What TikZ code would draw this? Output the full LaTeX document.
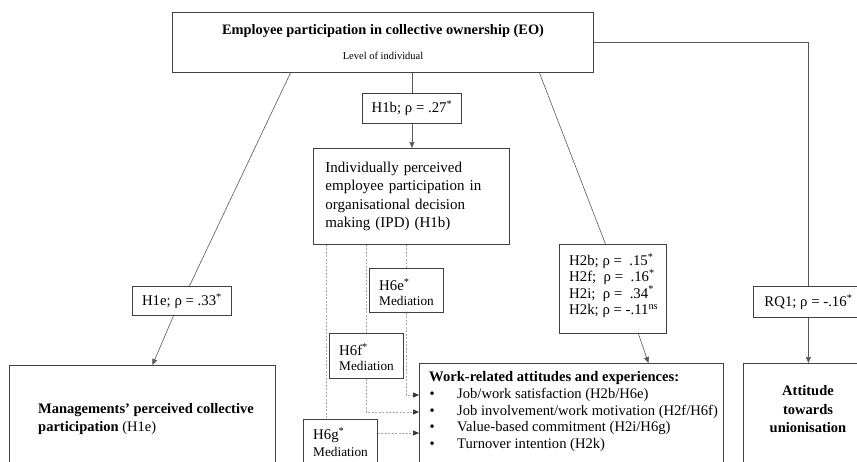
\documentclass[tikz,border=0pt]{standalone}
\usepackage{fontspec}
\setmainfont{Liberation Serif}
\usetikzlibrary{arrows.meta,calc,positioning}

\begin{document}
\begin{tikzpicture}[x=1pt,y=-1pt,font=\fontsize{14.8}{17}\selectfont,
  box/.style={draw=black!75,line width=0.9pt,inner sep=0pt,anchor=north west},
  con/.style={black!65,line width=0.6pt},
  arr/.style={con,-{Triangle[length=6pt,width=5pt]}},
  med/.style={black!35,line width=0.6pt,dash pattern=on 2pt off 1.5pt},
  medarr/.style={med,-{Triangle[length=6pt,width=5pt,color=black!80]}},
  txt/.style={inner sep=0pt},
  hyp/.style={txt,anchor=west},
  medtxt/.style={txt,anchor=west,font=\fontsize{13.3}{15}\selectfont}]
\useasboundingbox (0,0) rectangle (857,461);
\clip (0,0) rectangle (857,461);

% top: collective ownership
\node[box,minimum width=421pt,minimum height=60pt] (eo) at (172,12) {};
\node[txt,font=\fontsize{14.4}{17}\selectfont\bfseries] (eotitle) at (383,31) {Employee participation in collective ownership (EO)};
\node[txt,font=\fontsize{10.5}{12}\selectfont] (eolevel) at (383,56) {Level of individual};

% middle column
\node[box,minimum width=99pt,minimum height=30pt] (h1b) at (362,93) {H1b; ρ = .27\textsuperscript{*}};
\node[box,minimum width=196pt,minimum height=96pt,text width=172pt,align=left,
  font=\fontsize{15}{18.4}\selectfont] (ipd) at (313,148)
  {Individually perceived\\employee participation in\\organisational decision\\making (IPD) (H1b)};

% mediation boxes
\node[box,minimum width=74pt,minimum height=44pt] (h6e) at (369,268) {};
\node[hyp] (h6et) at (379,285) {H6e\textsuperscript{*}};
\node[medtxt] (h6em) at (379,301) {Mediation};
\node[box,minimum width=74pt,minimum height=45pt] (h6f) at (329,333) {};
\node[hyp] (h6ft) at (339,350) {H6f\textsuperscript{*}};
\node[medtxt] (h6fm) at (339,366) {Mediation};
\node[box,minimum width=74pt,minimum height=60pt] (h6g) at (303,419) {};
\node[hyp] (h6gt) at (313,435) {H6g\textsuperscript{*}};
\node[medtxt] (h6gm) at (313,452) {Mediation};

% left column
\node[box,minimum width=99pt,minimum height=29pt] (h1e) at (132,286) {H1e; ρ = .33\textsuperscript{*}};
\node[box,minimum width=266pt,minimum height=120pt] (mgmt) at (9,365) {};
\node[txt,anchor=west,align=left,font=\fontsize{14.5}{18}\selectfont\bfseries] (mgmtt) at (38,419)
  {Managements’ perceived collective\\participation {\mdseries (H1e)}};

% work attitudes
\node[box,minimum width=107pt,minimum height=89pt] (h2) at (559,244) {};
\node[txt,anchor=west,align=left,font=\fontsize{14.8}{16.4}\selectfont] (h2t) at (569,285.5)
  {H2b; ρ =~~.15\textsuperscript{*}\\H2f;~~ρ =~~.16\textsuperscript{*}\\H2i;~~ρ =~~.34\textsuperscript{*}\\H2k; ρ = -.11\textsuperscript{ns}};
\node[box,minimum width=304pt,minimum height=120pt] (work) at (419,363) {};
\node[txt,anchor=west,align=left,font=\fontsize{14.6}{16.6}\selectfont] (workt) at (429,411.5)
  {{\bfseries Work-related attitudes and experiences:}\\
   \makebox[28pt][l]{\hspace{0.5pt}\textbullet}Job/work satisfaction (H2b/H6e)\\
   \makebox[28pt][l]{\hspace{0.5pt}\textbullet}Job involvement/work motivation (H2f/H6f)\\
   \makebox[28pt][l]{\hspace{0.5pt}\textbullet}Value-based commitment (H2i/H6g)\\
   \makebox[28pt][l]{\hspace{0.5pt}\textbullet}Turnover intention (H2k)};

% right column
\node[box,minimum width=110pt,minimum height=31pt] (rq1) at (753,286) {RQ1; ρ = -.16\textsuperscript{*}};
\node[box,minimum width=130pt,minimum height=120pt] (att) at (743,363) {};
\node[txt,align=center,font=\fontsize{14.5}{18.5}\selectfont\bfseries] (attt) at (808,409.5)
  {Attitude\\towards\\unionisation};

% connectors
\draw[con] (eo.south -| h1b.north) -- (h1b.north);
\draw[arr] (h1b.south) -- (h1b.south |- ipd.north);
\draw[con] ($(eo.south)+(-92.5,0)$) -- ($(h1e.north)+(7.5,0)$);
\draw[arr] ($(h1e.south)+(-8.5,0)$) -- ($(mgmt.north)+(10,0)$);
\draw[con] ($(eo.south)+(156.5,0)$) -- ($(h2.north)+(-7.5,0)$);
\draw[arr] ($(h2.south)+(25.5,0)$) -- ($(work.north)+(77,0)$);
\draw[con] (eo.east) -| (rq1.north);
\draw[arr] (rq1.south) -- (att.north);

% mediation paths
\coordinate (m1) at ($(ipd.south west)+(13,0)$);
\coordinate (w1) at ($(work.north west)+(0,32)$);
\coordinate (w2) at ($(work.north west)+(0,49)$);
\coordinate (w3) at ($(work.north west)+(0,70)$);
\draw[med] (m1) -- (m1 |- h6g.north);
\draw[med] (ipd.south -| h6f.north) -- (h6f.north);
\draw[med] (ipd.south -| h6e.north) -- (h6e.north);
\draw[medarr] (h6e.south) |- (w1);
\draw[medarr] (h6f.south) |- (w2);
\draw[medarr] (h6g.east |- w3) -- (w3);
\end{tikzpicture}
\end{document}
